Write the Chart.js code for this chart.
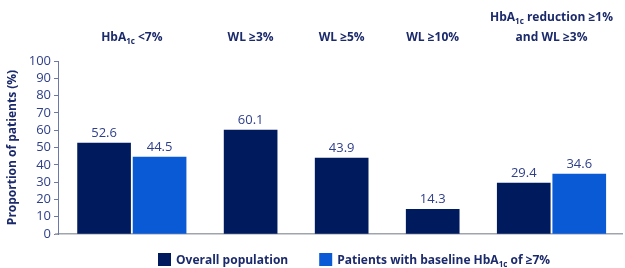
<!DOCTYPE html>
<html><head><meta charset="utf-8">
<script src="https://cdn.jsdelivr.net/npm/chart.js@4/dist/chart.umd.min.js"></script>
<style>html,body{margin:0;padding:0;background:#fff}#wrap{width:625px;height:268px;position:relative}</style>
</head><body><div id="wrap"><canvas id="c"></canvas></div>
<script>
// ---- data ----
const categories = [["HbA_{1c} <7%"], ["WL ≥3%"], ["WL ≥5%"], ["WL ≥10%"], ["HbA_{1c} reduction ≥1%", "and WL ≥3%"]];
const seriesNames = ["Overall population", "Patients with baseline HbA_{1c} of ≥7%"];
const overallPopulation = [52.6, 60.1, 43.9, 14.3, 29.4];
const baselineHbA1cHigh = [44.5, null, null, null, 34.6];
const yTickValues = [0, 10, 20, 30, 40, 50, 60, 70, 80, 90, 100];
const yAxisTitle = "Proportion of patients (%)";

// ---- styles ----
const NAVY = "#001a5e", BLUE = "#0a5ad6", TEXT = "#1b2a6b", TICK = "#2f3f8a";
const FONT = "'Open Sans', 'Noto Sans', sans-serif";
const GROUP_GAP = 1.64; // distance between adjacent bars of different groups (in bar pitches)

// ---- layout of bars along a linear x axis (derived from group structure) ----
const series = [overallPopulation, baselineHbA1cHigh];
const colors = [NAVY, BLUE];
const barX = series.map(() => []);
const groupCenter = [];
let cursor = 0;
categories.forEach((c, i) => {
  const xs = [];
  series.forEach((s, k) => { if (s[i] != null) { barX[k][i] = cursor; xs.push(cursor); cursor += 1; } });
  groupCenter[i] = xs.reduce((a, b) => a + b, 0) / xs.length;
  cursor += GROUP_GAP - 1;
});
const lastX = cursor - GROUP_GAP;

const datasets = series.map((s, k) => ({
  label: seriesNames[k],
  data: s.map((v, i) => v == null ? null : { x: barX[k][i], y: v }).filter(Boolean),
  backgroundColor: colors[k],
  borderWidth: 0,
  barThickness: 53,
  grouped: false
}));

// rich text with _{subscript}
function parseRich(t) {
  const parts = []; const re = /_\{([^}]*)\}/g; let last = 0, m;
  while ((m = re.exec(t))) { if (m.index > last) parts.push({ t: t.slice(last, m.index), sub: false }); parts.push({ t: m[1], sub: true }); last = re.lastIndex; }
  if (last < t.length) parts.push({ t: t.slice(last), sub: false });
  return parts;
}
function drawRich(ctx, text, x, y, size, weight, color, align) {
  const parts = parseRich(text);
  const fMain = `${weight} ${size}px ${FONT}`, fSub = `${weight} ${Math.round(size * 0.68)}px ${FONT}`;
  let w = 0;
  parts.forEach(p => { ctx.font = p.sub ? fSub : fMain; p.w = ctx.measureText(p.t).width; w += p.w; });
  let cx = align === 'center' ? x - w / 2 : x;
  ctx.fillStyle = color; ctx.textAlign = 'left'; ctx.textBaseline = 'alphabetic';
  parts.forEach(p => { ctx.font = p.sub ? fSub : fMain; ctx.fillText(p.t, cx, y + (p.sub ? size * 0.28 : 0)); cx += p.w; });
  return w;
}

const annotations = {
  id: 'annotations',
  afterDatasetsDraw(chart) {
    const ctx = chart.ctx, xs = chart.scales.x, ys = chart.scales.y;
    ctx.save();
    // baseline extension to the left of the y axis (tick-length stub)
    ctx.strokeStyle = '#a0a4ad'; ctx.lineWidth = 1.5;
    ctx.beginPath(); ctx.moveTo(chart.chartArea.left - 3, ys.getPixelForValue(0)); ctx.lineTo(chart.chartArea.left, ys.getPixelForValue(0)); ctx.stroke();
    // value labels
    chart.data.datasets.forEach((ds, k) => {
      ds.data.forEach(d => {
        ctx.font = `400 13px ${FONT}`; ctx.fillStyle = TICK; ctx.textAlign = 'center'; ctx.textBaseline = 'bottom';
        ctx.fillText(d.y.toFixed(1), xs.getPixelForValue(d.x), ys.getPixelForValue(d.y) - 3);
      });
    });
    // category labels at top
    categories.forEach((lines, i) => {
      const cx = xs.getPixelForValue(groupCenter[i]);
      const n = lines.length;
      lines.forEach((ln, j) => {
        drawRich(ctx, ln, cx, 41 - (n - 1 - j) * 20, 12, 700, TEXT, 'center');
      });
    });
    // legend
    let lx = chart.chartArea.left + 100;
    const ly = 253;
    seriesNames.forEach((name, k) => {
      ctx.fillStyle = colors[k];
      ctx.fillRect(lx, ly, 13, 13);
      const w = drawRich(ctx, name, lx + 18, ly + 11, 12, 700, TEXT, 'left');
      lx += 18 + w + 31;
    });
    ctx.restore();
  }
};

new Chart(document.getElementById('c'), {
  type: 'bar',
  data: { datasets },
  options: {
    responsive: true, maintainAspectRatio: false, animation: false,
    layout: { padding: { top: 61, right: 3, bottom: 34, left: 2 } },
    plugins: { legend: { display: false }, tooltip: { enabled: false } },
    scales: {
      x: {
        type: 'linear', min: -0.83, max: lastX + 0.77, offset: false,
        grid: { display: false, drawTicks: false },
        ticks: { display: false },
        border: { display: true, color: '#a0a4ad', width: 1.5 }
      },
      y: {
        min: 0, max: 100,
        afterBuildTicks(scale) { scale.ticks = yTickValues.map(v => ({ value: v })); },
        afterFit(scale) { scale.width = 56; },
        grid: { drawOnChartArea: false, drawTicks: true, tickLength: 4, color: '#6b78a8' },
        border: { display: true, color: '#6b78a8', width: 1 },
        ticks: { color: TICK, font: { family: FONT, size: 13 }, padding: 3, autoSkip: false },
        title: { display: true, text: yAxisTitle, color: TEXT, font: { family: FONT, size: 12, weight: 700 }, padding: { top: 3, bottom: 0 } }
      }
    }
  },
  plugins: [annotations]
});
</script></body></html>
